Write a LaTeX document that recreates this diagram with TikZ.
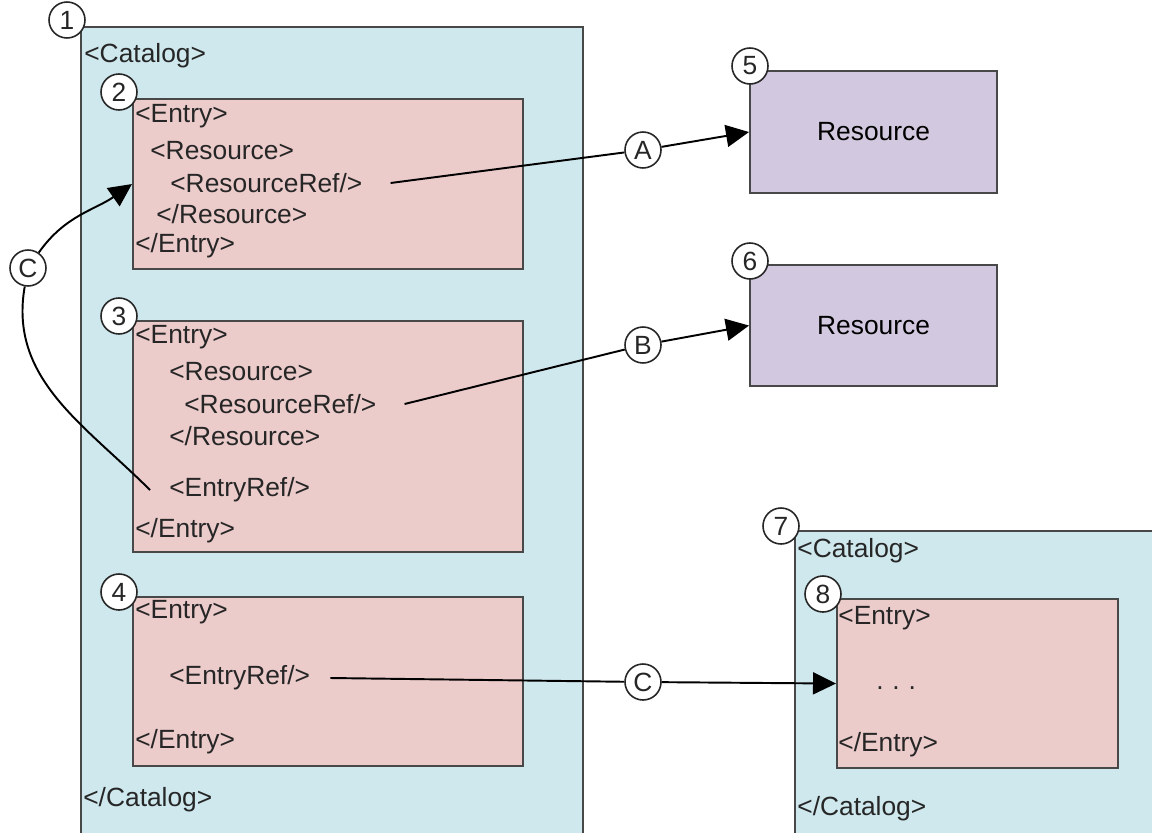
\documentclass[tikz,border=0pt]{standalone}
\usepackage{fontspec}
\setmainfont{Liberation Sans}
\usetikzlibrary{arrows.meta,positioning}
\definecolor{catblue}{RGB}{206,232,238}
\definecolor{entrypink}{RGB}{236,203,203}
\definecolor{respurple}{RGB}{210,200,223}
\definecolor{edgegray}{RGB}{72,72,72}

\begin{document}
\begin{tikzpicture}[
        x=0.02cm, y=-0.02cm,
        font=\fontsize{15}{18}\selectfont,
        catbox/.style={rectangle, draw=edgegray, line width=1.2pt, fill=catblue, anchor=north west, inner sep=0pt},
        entrybox/.style={catbox, fill=entrypink},
        resbox/.style={catbox, fill=respurple},
        num/.style={circle, draw=black!85, fill=white, line width=0.9pt, minimum size=0.72cm, inner sep=0pt, text=black!85},
        tag/.style={anchor=west, inner sep=0pt, text=black!85},
        ref/.style={draw=black, line width=1.1pt},
        tip/.style={-{Triangle[length=0.46cm, width=0.44cm]}},
    ]
        \useasboundingbox (0,0) rectangle (1152,832);
        \clip (0,0) rectangle (1152,832);

        % outer catalog
        \node[catbox, minimum width=10.04cm, minimum height=16.6cm] (cat1) at (80,26) {};
        \node[num] (n1) at (67,20) {1};
        \node[tag] (cat1open) at (84,56) {<Catalog>};
        \node[tag] (cat1close) at (83,800) {</Catalog>};

        % entry 2
        \node[entrybox, minimum width=7.8cm, minimum height=3.4cm] (entry2) at (132,98) {};
        \node[num] (n2) at (119,92) {2};
        \node[tag] (e2open) at (135,116) {<Entry>};
        \node[tag] (e2res) at (150,151) {<Resource>};
        \node[tag] (e2ref) at (170,183) {<ResourceRef/>};
        \node[tag] (e2resclose) at (156,214) {</Resource>};
        \node[tag] (e2close) at (135,246) {</Entry>};

        % entry 3
        \node[entrybox, minimum width=7.8cm, minimum height=4.62cm] (entry3) at (132,320) {};
        \node[num] (n3) at (119,316) {3};
        \node[tag] (e3open) at (135,337) {<Entry>};
        \node[tag] (e3res) at (169,372) {<Resource>};
        \node[tag] (e3ref) at (184,404) {<ResourceRef/>};
        \node[tag] (e3resclose) at (169,436) {</Resource>};
        \node[tag] (e3eref) at (169,490) {<EntryRef/>};
        \node[tag] (e3close) at (135,531) {</Entry>};

        % entry 4
        \node[entrybox, minimum width=7.8cm, minimum height=3.38cm] (entry4) at (132,596) {};
        \node[num] (n4) at (119,592) {4};
        \node[tag] (e4open) at (135,612) {<Entry>};
        \node[tag] (e4eref) at (169,678) {<EntryRef/>};
        \node[tag] (e4close) at (135,742) {</Entry>};

        % resources
        \node[resbox, minimum width=4.94cm, minimum height=2.44cm] (res5) at (749,70) {};
        \node at (res5.center) {Resource};
        \node[num] (n5) at (750,66) {5};
        \node[resbox, minimum width=4.94cm, minimum height=2.42cm] (res6) at (749,264) {};
        \node at (res6.center) {Resource};
        \node[num] (n6) at (750,261) {6};

        % second catalog
        \node[catbox, minimum width=7.6cm, minimum height=6.4cm] (cat7) at (794,530) {};
        \node[num] (n7) at (781,526) {7};
        \node[tag] (cat7open) at (797,551) {<Catalog>};
        \node[tag] (cat7close) at (797,809) {</Catalog>};
        \node[entrybox, minimum width=5.62cm, minimum height=3.38cm] (entry8) at (836,598) {};
        \node[num] (n8) at (823,594) {8};
        \node[tag] (e8open) at (838,618) {<Entry>};
        \node[tag] (e8dots) at (876,688) {.\,\,.\,\,.};
        \node[tag] (e8close) at (838,745) {</Entry>};

        % references
        \node[num] (refA) at (643,150) {A};
        \node[num] (refB) at (643,345) {B};
        \node[num] (refC) at (643,682) {C};
        \node[num] (refCl) at (28,268) {C};

        \draw[ref] ([xshift=0.56cm]e2ref.east) -- (refA);
        \draw[ref, tip] (refA) -- (res5.west);
        \draw[ref] ([xshift=0.56cm]e3ref.east) -- (refB);
        \draw[ref, tip] (refB) -- (res6.west);
        \draw[ref] ([xshift=0.4cm]e4eref.east) -- (refC);
        \draw[ref, tip] (refC) -- (entry8.west);
        \draw[ref] (refCl) to[out=-100, in=135] ([xshift=-0.38cm]e3eref.west);
        \draw[ref, tip] (refCl) to[out=55, in=215] (entry2.west);
    \end{tikzpicture}
\end{document}
